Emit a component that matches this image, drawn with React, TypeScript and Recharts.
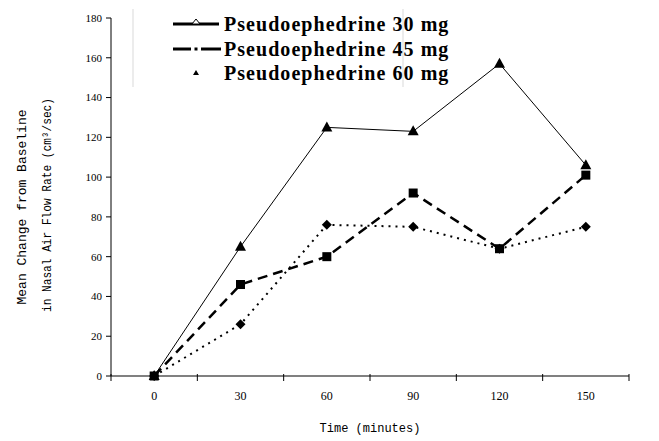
import { LineChart, Line, XAxis, YAxis, Legend, Label } from "recharts";

const times = [0, 30, 60, 90, 120, 150];
const dose30 = [0, 65, 125, 123, 157, 106];
const dose45 = [0, 46, 60, 92, 64, 101];
const dose60 = [0, 26, 76, 75, 64, 75];

const yTicks = [0, 20, 40, 60, 80, 100, 120, 140, 160, 180];
// tick marks sit between the time points, labels on them
const xBounds = [-15, 15, 45, 75, 105, 135, 165];

const seriesNames = ["Pseudoephedrine 30 mg", "Pseudoephedrine 45 mg", "Pseudoephedrine 60 mg"];
const yTitle = ["Mean Change from Baseline", "in Nasal Air Flow Rate (cm\u00b3/sec)"];
const xTitle = "Time (minutes)";

const data = times.map((t, i) => ({ time: t, d30: dose30[i], d45: dose45[i], d60: dose60[i] }));
const xTicks = [...xBounds, ...times].sort((a, b) => a - b);

const serif = "'Liberation Serif', 'Times New Roman', serif";
const mono = "'Liberation Mono', 'Courier New', monospace";

const Triangle = (props: any) => {
  const { cx, cy } = props;
  if (cx == null || cy == null) return null;
  return <polygon points={`${cx},${cy - 6} ${cx + 5.5},${cy + 4} ${cx - 5.5},${cy + 4}`} fill="#000" />;
};

const Square = (props: any) => {
  const { cx, cy } = props;
  if (cx == null || cy == null) return null;
  return <rect x={cx - 4.5} y={cy - 4.5} width={9} height={9} fill="#000" />;
};

const Diamond = (props: any) => {
  const { cx, cy } = props;
  if (cx == null || cy == null) return null;
  return <polygon points={`${cx},${cy - 5} ${cx + 5},${cy} ${cx},${cy + 5} ${cx - 5},${cy}`} fill="#000" />;
};

const XTick = (props: any) => {
  const { x, y, payload } = props;
  if (xBounds.includes(payload.value)) {
    return <line x1={x} x2={x} y1={y - 2} y2={y + 5} stroke="#000" strokeWidth={1} />;
  }
  return (
    <text x={x} y={y + 24} textAnchor="middle" fontFamily={serif} fontSize={12} fill="#000">
      {payload.value}
    </text>
  );
};

const YTitle = () => (
  <g fontFamily={mono} fontSize={12} fill="#000">
    <text
      x={26}
      y={207}
      transform="rotate(-90 26 207)"
      textAnchor="middle"
      textLength={195}
      lengthAdjust="spacingAndGlyphs"
    >
      {yTitle[0]}
    </text>
    <text
      x={51}
      y={205}
      transform="rotate(-90 51 205)"
      textAnchor="middle"
      textLength={214}
      lengthAdjust="spacingAndGlyphs"
    >
      {yTitle[1]}
    </text>
  </g>
);

const XTitle = (props: any) => {
  const { viewBox } = props;
  const cx = viewBox.x + viewBox.width / 2;
  return (
    <text x={cx} y={432} textAnchor="middle" fontFamily={mono} fontSize={12} fill="#000">
      {xTitle}
    </text>
  );
};

const LegendBox = () => {
  const samples = [
    <g>
      <line x1={2} x2={48} y1={9} y2={9} stroke="#000" strokeWidth={3} />
      <polygon points="25,4 29,9 21,9" fill="#fff" stroke="#000" strokeWidth={1} />
    </g>,
    <g>
      <line x1={2} x2={20} y1={9} y2={9} stroke="#000" strokeWidth={3} />
      <line x1={30} x2={50} y1={9} y2={9} stroke="#000" strokeWidth={3} />
      <rect x={23.5} y={7.5} width={3} height={3} fill="#000" />
    </g>,
    <g>
      <polygon points="25,6 28,11 22,11" fill="#000" />
    </g>,
  ];
  return (
    <div
      style={{
        width: 272,
        height: 78,
        borderLeft: "2px solid #ececec",
        borderRight: "2px solid #ececec",
        boxSizing: "border-box",
        paddingTop: 3,
      }}
    >
      {seriesNames.map((name, i) => (
        <div key={name} style={{ display: "flex", alignItems: "center", height: 24.5 }}>
          <svg width={50} height={18} style={{ marginLeft: 37, marginRight: 3, flex: "none" }}>
            {samples[i]}
          </svg>
          <span
            style={{
              fontFamily: serif,
              fontWeight: "bold",
              fontSize: 20,
              lineHeight: "20px",
              color: "#000",
              letterSpacing: 1.05,
              whiteSpace: "nowrap",
            }}
          >
            {name}
          </span>
        </div>
      ))}
    </div>
  );
};

export default function App() {
  return (
    <div style={{ position: "absolute", left: 0, top: 0, width: 659, height: 441, background: "#fff" }}>
      <LineChart width={659} height={441} data={data} margin={{ top: 18, right: 30, bottom: 35, left: 0 }}>
        <XAxis
          dataKey="time"
          type="number"
          domain={[-15, 165]}
          ticks={xTicks}
          interval={0}
          tick={<XTick />}
          tickLine={false}
          tickSize={0}
          tickMargin={0}
          axisLine={{ stroke: "#808080", strokeWidth: 2 }}
          height={30}
        >
          <Label content={<XTitle />} />
        </XAxis>
        <YAxis
          domain={[0, 180]}
          ticks={yTicks}
          interval={0}
          width={111}
          tickSize={5}
          tickMargin={4}
          tick={{ fontFamily: serif, fontSize: 11, fill: "#000" }}
          tickLine={{ stroke: "#000" }}
          axisLine={{ stroke: "#000" }}
        >
          <Label content={<YTitle />} />
        </YAxis>
        <Legend
          verticalAlign="middle"
          align="center"
          layout="horizontal"
          wrapperStyle={{ position: "absolute", top: 9, left: 132, width: 272, height: 78 }}
          content={<LegendBox />}
        />
        <Line
          dataKey="d30"
          stroke="#000"
          strokeWidth={1}
          dot={<Triangle />}
          activeDot={false}
          isAnimationActive={false}
        />
        <Line
          dataKey="d45"
          stroke="#000"
          strokeWidth={2.5}
          strokeDasharray="10 6"
          dot={<Square />}
          activeDot={false}
          isAnimationActive={false}
        />
        <Line
          dataKey="d60"
          stroke="#000"
          strokeWidth={2}
          strokeDasharray="2 5"
          dot={<Diamond />}
          activeDot={false}
          isAnimationActive={false}
        />
      </LineChart>
    </div>
  );
}
